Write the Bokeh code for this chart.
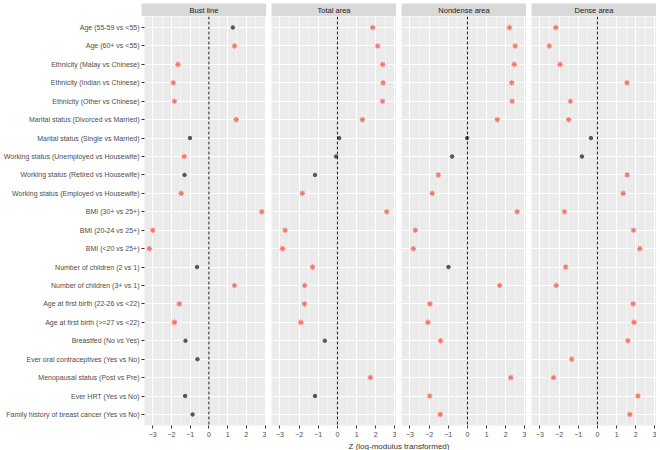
from bokeh.plotting import figure
from bokeh.layouts import column, row
from bokeh.models import FactorRange, Range1d, FixedTicker, Span, Label
from bokeh.embed import file_html
from bokeh.resources import INLINE

categories = [
    "Age (55-59 vs <55)",
    "Age (60+ vs <55)",
    "Ethnicity (Malay vs Chinese)",
    "Ethnicity (Indian vs Chinese)",
    "Ethnicity (Other vs Chinese)",
    "Marital status (Divorced vs Married)",
    "Marital status (Single vs Married)",
    "Working status (Unemployed vs Housewife)",
    "Working status (Retired vs Housewife)",
    "Working status (Employed vs Housewife)",
    "BMI (30+ vs 25+)",
    "BMI (20-24 vs 25+)",
    "BMI (<20 vs 25+)",
    "Number of children (2 vs 1)",
    "Number of children (3+ vs 1)",
    "Age at first birth (22-26 vs <22)",
    "Age at first birth (>=27 vs <22)",
    "Breastfed (No vs Yes)",
    "Ever oral contraceptives (Yes vs No)",
    "Menopausal status (Post vs Pre)",
    "Ever HRT (Yes vs No)",
    "Family history of breast cancer (Yes vs No)",
]

panel_names = ["Bust line", "Total area", "Nondense area", "Dense area"]

bust_z = [1.28, 1.37, -1.65, -1.90, -1.84, 1.46, -1.01, -1.32, -1.30, -1.48, 2.83,
          -3.00, -3.18, -0.63, 1.37, -1.58, -1.84, -1.25, -0.61, None, -1.27, -0.87]
bust_sig = [0, 1, 1, 1, 1, 1, 0, 1, 0, 1, 1, 1, 1, 0, 1, 1, 1, 0, 0, 0, 0, 0]

total_z = [1.84, 2.10, 2.36, 2.38, 2.35, 1.30, 0.09, -0.07, -1.17, -1.83, 2.57,
           -2.73, -2.87, -1.30, -1.71, -1.72, -1.91, -0.66, None, 1.72, -1.17, None]
total_sig = [1, 1, 1, 1, 1, 1, 0, 0, 0, 1, 1, 1, 1, 1, 1, 1, 1, 0, 0, 1, 0, 0]

nondense_z = [2.19, 2.49, 2.44, 2.31, 2.33, 1.56, -0.02, -0.80, -1.52, -1.84, 2.59,
              -2.72, -2.82, -0.99, 1.68, -1.96, -2.06, -1.40, None, 2.26, -1.97, -1.42]
nondense_sig = [1, 1, 1, 1, 1, 1, 0, 0, 1, 1, 1, 1, 1, 0, 1, 1, 1, 1, 0, 1, 1, 1]

dense_z = [-2.17, -2.51, -1.95, 1.54, -1.41, -1.50, -0.34, -0.81, 1.55, 1.34, -1.72,
           1.88, 2.21, -1.66, -2.15, 1.86, 1.91, 1.59, -1.34, -2.29, 2.11, 1.69]
dense_sig = [1, 1, 1, 1, 1, 1, 0, 0, 1, 1, 1, 1, 1, 1, 1, 1, 1, 1, 1, 1, 1, 1]

x_ticks = [-3, -2, -1, 0, 1, 2, 3]
x_minor = [-2.5, -1.5, -0.5, 0.5, 1.5, 2.5]

series = [(bust_z, bust_sig), (total_z, total_sig), (nondense_z, nondense_sig), (dense_z, dense_sig)]

FONT = "Liberation Sans"
LEFT = 141
PW = 125
GAP = 5
STRIP_TOP = 3
STRIP_H = 13
FRAME_H = 410
AXIS_H = 13
TITLE_H = 11

yr = FactorRange(factors=list(reversed(categories)), range_padding=0.1,
                 range_padding_units="absolute")
xr = Range1d(-3.44, 3.08)

strips = []
panels = []
for i, (name, (zs, sig)) in enumerate(zip(panel_names, series)):
    lb = LEFT if i == 0 else GAP
    s = figure(width=lb + PW, height=STRIP_TOP + STRIP_H, x_range=Range1d(0, 1), y_range=Range1d(0, 1),
               x_axis_location=None, y_axis_location=None, toolbar_location=None,
               output_backend="svg", background_fill_color="#D9D9D9",
               border_fill_color="white", outline_line_color=None,
               min_border_left=lb, min_border_right=0, min_border_top=STRIP_TOP, min_border_bottom=0)
    s.xgrid.grid_line_color = None
    s.ygrid.grid_line_color = None
    s.add_layout(Label(x=0.5, y=0.5, text=name, text_align="center", text_baseline="middle",
                       text_font=FONT, text_font_size="7.5px", text_color="#1A1A1A"))
    strips.append(s)

    p = figure(width=lb + PW, height=FRAME_H + AXIS_H, x_range=xr, y_range=yr,
               y_axis_location="left" if i == 0 else None,
               toolbar_location=None, output_backend="svg",
               background_fill_color="#EBEBEB", border_fill_color="white",
               outline_line_color=None,
               min_border_left=lb, min_border_right=0, min_border_top=0, min_border_bottom=AXIS_H)
    p.xaxis.ticker = FixedTicker(ticks=x_ticks, minor_ticks=x_minor)
    p.xaxis.axis_line_color = None
    p.xaxis.major_tick_in = 0
    p.xaxis.major_tick_out = 3
    p.xaxis.major_tick_line_color = "#333333"
    p.xaxis.minor_tick_line_color = None
    p.xaxis.major_label_text_font = FONT
    p.xaxis.major_label_text_font_size = "7px"
    p.xaxis.major_label_text_color = "#4D4D4D"
    p.xaxis.major_label_standoff = 2
    p.xgrid.grid_line_color = "white"
    p.xgrid.grid_line_width = 1
    p.xgrid.minor_grid_line_color = "white"
    p.xgrid.minor_grid_line_width = 0.5
    p.ygrid.grid_line_color = "white"
    p.ygrid.grid_line_width = 1
    if i == 0:
        p.yaxis.axis_line_color = None
        p.yaxis.major_tick_in = 0
        p.yaxis.major_tick_out = 3
        p.yaxis.major_tick_line_color = "#333333"
        p.yaxis.major_label_text_font = FONT
        p.yaxis.major_label_text_font_size = "7px"
        p.yaxis.major_label_text_color = "#4D4D4D"
        p.yaxis.major_label_standoff = 2

    p.add_layout(Span(location=0, dimension="height", line_color="black",
                      line_dash="3 2", line_width=0.9))

    sx, sy, nx, ny = [], [], [], []
    for cat, z, f in zip(categories, zs, sig):
        if z is None:
            continue
        if f:
            sx.append(z)
            sy.append(cat)
        else:
            nx.append(z)
            ny.append(cat)
    p.scatter(x=nx, y=ny, marker="circle", size=3.5, fill_color="#555555", line_color="#555555")
    p.scatter(x=sx, y=sy, marker="asterisk", size=5.5, line_color="#F8766D", line_width=1.1)
    panels.append(p)

total_w = LEFT + 4 * PW + 3 * GAP
t = figure(width=total_w, height=TITLE_H, x_range=Range1d(0, 1), y_range=Range1d(0, 1),
           x_axis_location=None, y_axis_location=None, toolbar_location=None,
           output_backend="svg", background_fill_color="white", border_fill_color="white",
           outline_line_color=None, min_border_left=LEFT, min_border_right=0,
           min_border_top=0, min_border_bottom=0)
t.xgrid.grid_line_color = None
t.ygrid.grid_line_color = None
t.add_layout(Label(x=0.5, y=0.5, text="Z (log-modulus transformed)", text_align="center",
                   text_baseline="middle", text_font=FONT, text_font_size="8px",
                   text_color="#333333"))

layout = column(row(*strips), row(*panels), t)

open("out.html", "w").write(file_html(layout, INLINE))
